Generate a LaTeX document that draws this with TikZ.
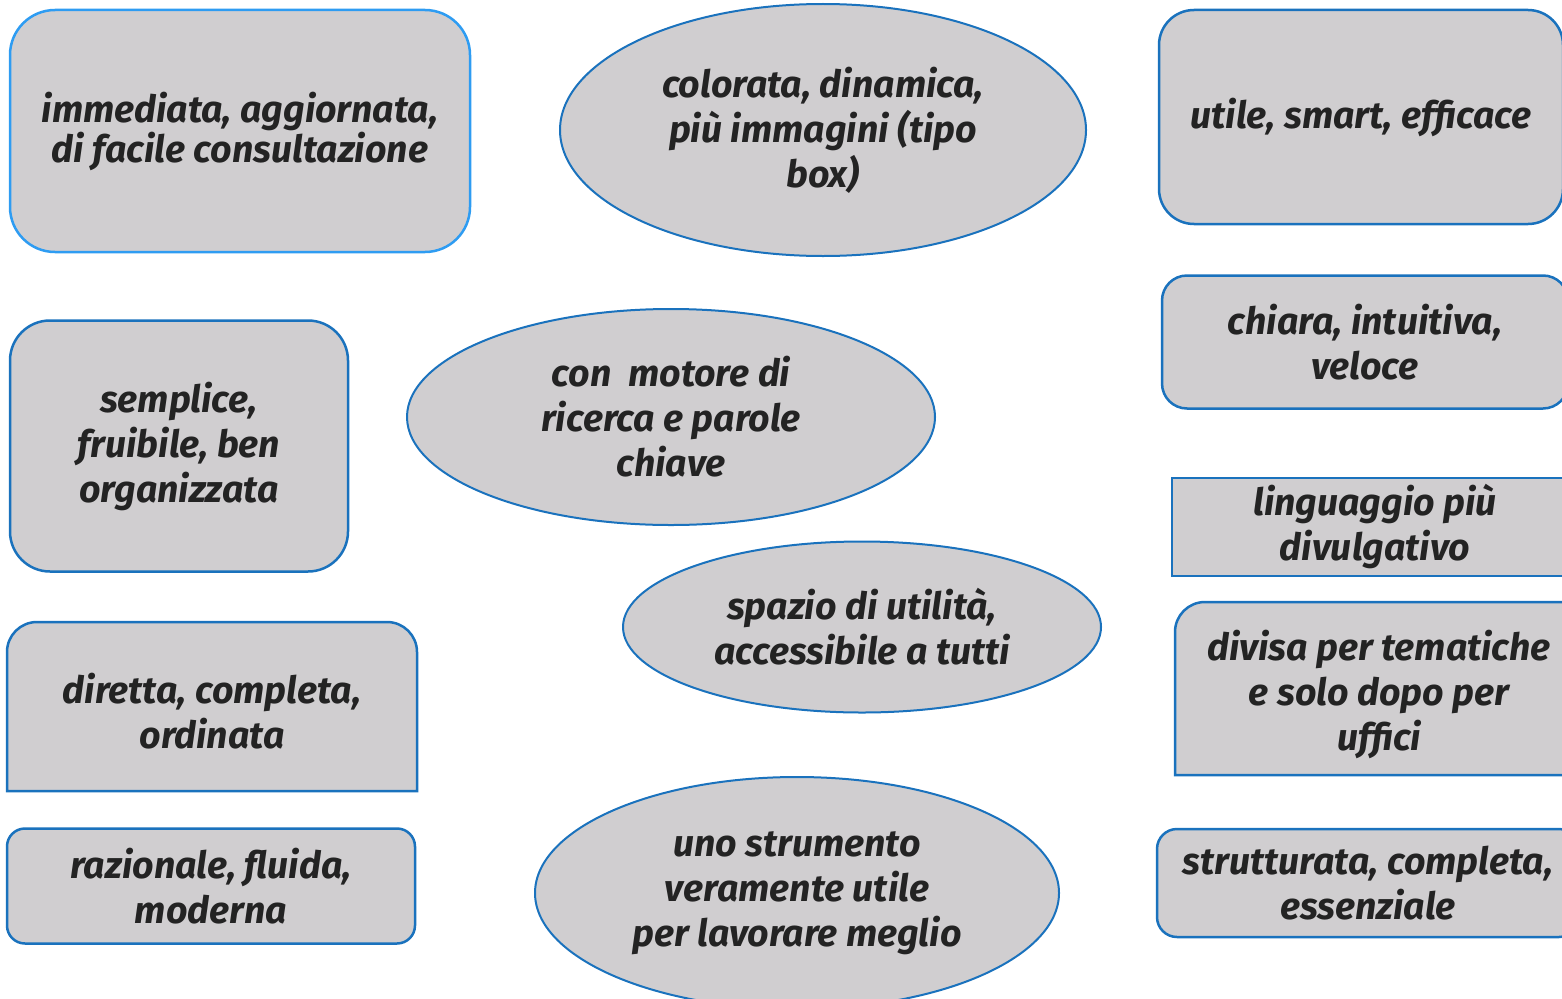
\documentclass[tikz,border=0pt]{standalone}
\usepackage{fontspec}
\setmainfont{Fira Sans}
\usetikzlibrary{shapes.geometric,backgrounds}

\definecolor{cardgray}{HTML}{D0CED0}
\definecolor{cardblue}{HTML}{1A72BD}
\definecolor{lightblue}{HTML}{2E9CF2}
\definecolor{ink}{HTML}{232323}

\tikzset{
  word/.style={align=center, text=ink, inner sep=0pt,
    font=\fontsize{37.5}{45}\selectfont\bfseries\itshape},
  card/.style={word, draw=cardblue, fill=cardgray, line width=2.5pt},
  bubble/.style={word, ellipse, draw=cardblue, fill=cardgray, line width=2pt},
  frame/.style={draw=cardblue, fill=cardgray, line width=2.5pt}
}

\begin{document}
\begin{tikzpicture}[x=1pt, y=-1pt]

  \useasboundingbox (0,0) rectangle (1562,998);
  \clip (0,0) rectangle (1562,998);

  % Left column
  \node[card, draw=lightblue, rounded corners=45pt, minimum width=460pt, minimum height=242pt,
        font=\fontsize{37.5}{40}\selectfont\bfseries\itshape]
        (imm) at (240,131) {immediata, aggiornata,\\di facile consultazione};
  \node[card, rounded corners=40pt, minimum width=338pt, minimum height=251pt]
        (sem) at (179,446) {semplice,\\fruibile, ben\\organizzata};
  \node[word] (dir) at (212,711) {diretta, completa,\\ordinata};
  \node[card, rounded corners=18pt, minimum width=408pt, minimum height=115pt]
        (raz) at (211,886) {razionale, fluida,\\moderna};

  % Ellipses in the middle
  \node[bubble, minimum width=526pt, minimum height=252pt]
        (col) at (823,130) {colorata, dinamica,\\più immagini (tipo\\box)};
  \node[bubble, minimum width=528pt, minimum height=216pt]
        (mot) at (671,417) {con\ \ motore di\\ricerca e parole\\chiave};
  \node[bubble, minimum width=478pt, minimum height=171pt]
        (spa) at (862,627) {spazio di utilità,\\accessibile a tutti};
  \node[bubble, minimum width=524pt, minimum height=232pt]
        (uno) at (797,893) {uno strumento\\veramente utile\\per lavorare meglio};

  % Right column
  \node[card, rounded corners=35pt, minimum width=404pt, minimum height=214pt]
        (uti) at (1361,117) {utile, smart, efficace};
  \node[card, rounded corners=25pt, minimum width=406pt, minimum height=133pt]
        (chi) at (1365,342) {chiara, intuitiva,\\veloce};
  \node[card, minimum width=406pt, minimum height=98pt]
        (lin) at (1375,527) {linguaggio più\\divulgativo};
  \node[word] (div) at (1379,694) {divisa per tematiche\\e solo dopo per\\uffici};
  \node[card, rounded corners=20pt, minimum width=422pt, minimum height=108pt]
        (str) at (1368,883) {strutturata, completa,\\essenziale};

  % Frames with only some corners rounded
  \coordinate (dirNW) at (7,622);
  \coordinate (dirSE) at (417,791);
  \coordinate (divNW) at (1175,602);
  \coordinate (divSE) at (1585,775);
  \begin{scope}[on background layer]
    \draw[frame] (dirNW |- dirSE) -- ([yshift=-30pt]dirNW)
      arc[start angle=180, end angle=90, radius=30pt] -- ([xshift=-30pt]dirSE |- dirNW)
      arc[start angle=90, end angle=0, radius=30pt] -- (dirSE) -- cycle;
    \draw[frame] (divNW |- divSE) -- ([yshift=-30pt]divNW)
      arc[start angle=180, end angle=90, radius=30pt] -- (divSE |- divNW)
      -- (divSE) -- cycle;
  \end{scope}

\end{tikzpicture}
\end{document}
